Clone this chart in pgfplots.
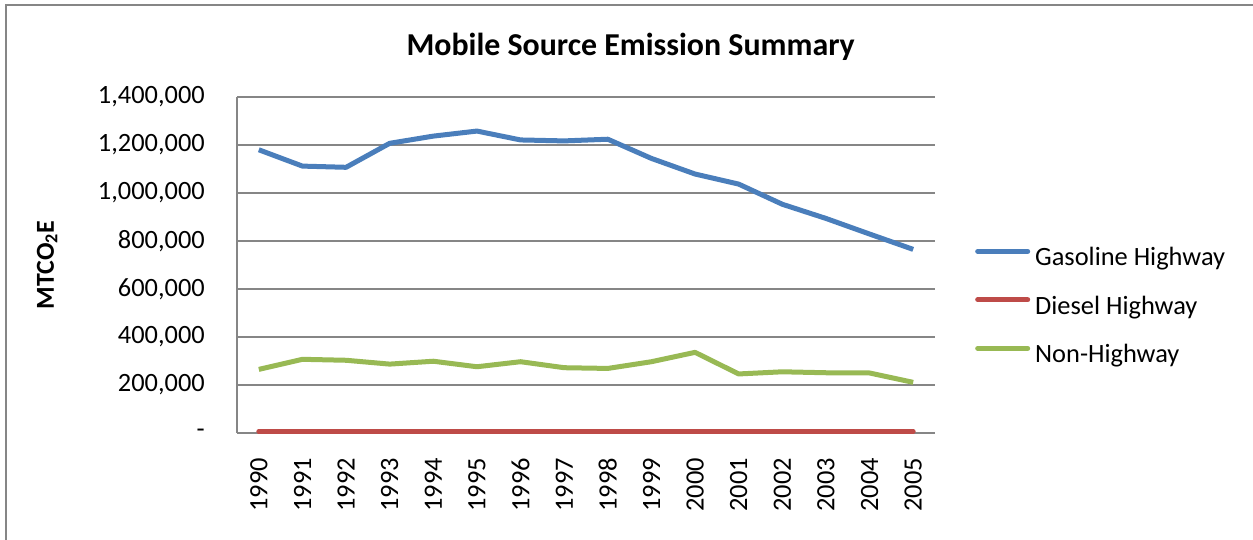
\documentclass[border=0pt]{standalone}
\usepackage{pgfplots}
\pgfplotsset{compat=1.18}
\usepackage{fontspec}
\setmainfont{Carlito}
\definecolor{gasblue}{HTML}{4A7EBB}
\definecolor{dieselred}{HTML}{BE4B48}
\definecolor{nonhwgreen}{HTML}{98B954}
\definecolor{gridgray}{HTML}{868686}
\begin{document}
\begin{tikzpicture}[x=1bp,y=1bp]
\path[use as bounding box] (0,0) rectangle (1253,540);
\draw[gridgray, line width=2bp] (6,0) -- (6,535) -- (1253,535);
\begin{axis}[
  at={(237bp,107bp)}, anchor=south west,
  scale only axis, width=698bp, height=336bp,
  xmin=-0.5, xmax=15.5, ymin=0, ymax=1400000,
  clip=false,
  scaled y ticks=false,
  axis x line*=bottom, axis y line*=left,
  axis line style={gridgray, line width=2bp, -},
  major tick length=0pt,
  xtick={0,...,15},
  xticklabels={1990,1991,1992,1993,1994,1995,1996,1997,1998,1999,2000,2001,2002,2003,2004,2005},
  ytick={0,200000,400000,600000,800000,1000000,1200000,1400000},
  yticklabels={{-},{200,000},{400,000},{600,000},{800,000},{1,000,000},{1,200,000},{1,400,000}},
  ticklabel style={font=\fontsize{26.5}{30}\selectfont},
  yticklabel style={anchor=east, inner sep=0pt, xshift=-32bp},
  xticklabel style={rotate=90, anchor=east, inner sep=0pt},
  xticklabel shift=25bp,
  ymajorgrids, grid style={gridgray, line width=2bp},
  ylabel={MTCO\textsubscript{2}E},
  ylabel style={at={(axis description cs:-0.272,0.5)}, anchor=center, font=\bfseries\fontsize{26}{30}\selectfont},
  title={Mobile Source Emission Summary},
  title style={at={(axis description cs:0.564,1.131)}, anchor=center, font=\bfseries\fontsize{32}{38}\selectfont},
  legend style={at={(axis description cs:1.053,0.558)}, anchor=north west, draw=none, fill=none,
    font=\fontsize{26.5}{26.5}\selectfont, row sep=24.5bp, column sep=5bp,
    nodes={inner sep=0pt, text height=18bp, text depth=6bp}},
  legend cell align=left,
  legend image code/.code={\draw[#1, line width=5bp, line cap=round] (2.5bp,8.4bp) -- (52.5bp,8.4bp);},
  every axis plot/.append style={line width=5bp, line join=round, no markers},
]
\addplot[gasblue] coordinates {
(0,1180000) (1,1112000) (2,1107000) (3,1207000) (4,1237000) (5,1258000) (6,1221000) (7,1217000)
(8,1224000) (9,1144000) (10,1079000) (11,1037000) (12,953000) (13,894000) (14,829000) (15,765000)};
\addlegendentry{Gasoline Highway}
\addplot[dieselred, line cap=round] coordinates {
(0,6000) (1,6000) (2,6000) (3,6000) (4,6000) (5,6000) (6,6000) (7,6000)
(8,6000) (9,6000) (10,6000) (11,6000) (12,6000) (13,6000) (14,6000) (15,6000)};
\addlegendentry{Diesel Highway}
\addplot[nonhwgreen] coordinates {
(0,265000) (1,307000) (2,303000) (3,287000) (4,299000) (5,276000) (6,297000) (7,272000)
(8,269000) (9,297000) (10,336000) (11,246000) (12,255000) (13,251000) (14,250000) (15,211000)};
\addlegendentry{Non-Highway}
\end{axis}
\end{tikzpicture}
\end{document}
